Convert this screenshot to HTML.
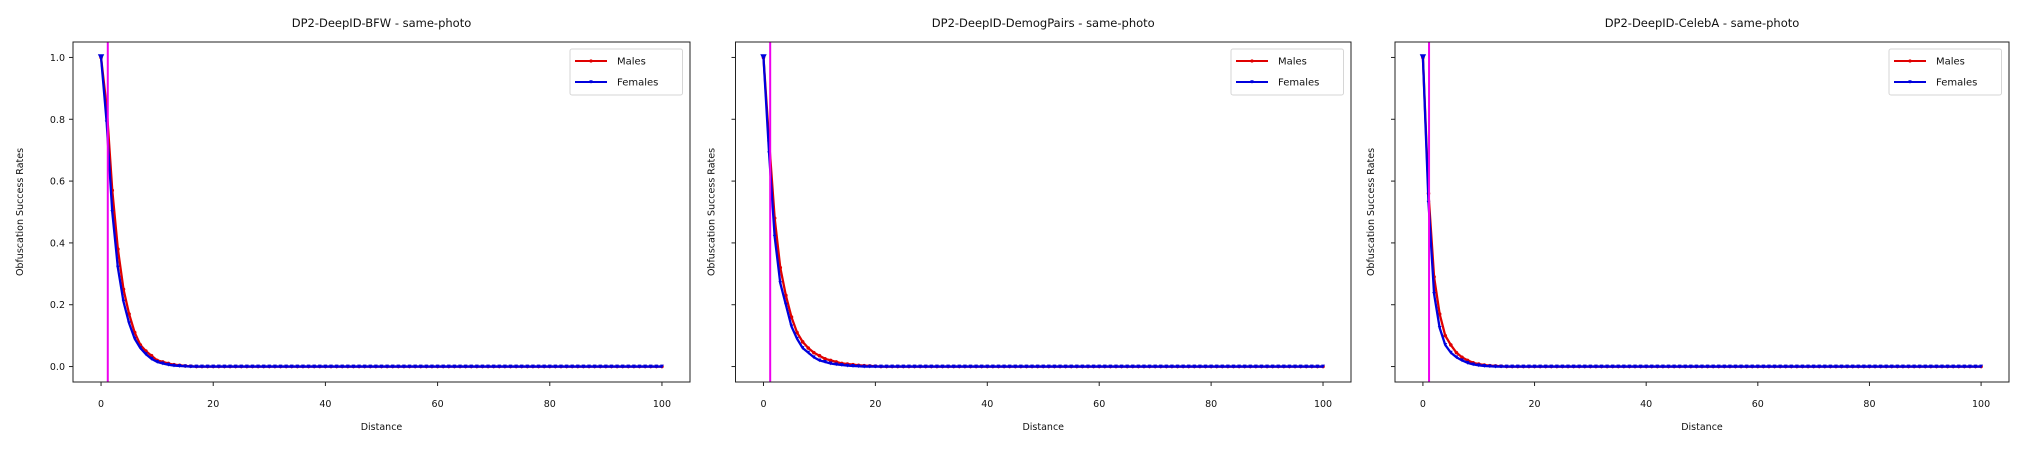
<!DOCTYPE html>
<html><head><meta charset="utf-8"><style>
html,body{margin:0;padding:0;background:#fff;}
svg{display:block;font-family:"DejaVu Sans","Liberation Sans",sans-serif;}
</style></head><body>
<svg id="fig" width="2025" height="450" viewBox="0 0 2025 450"></svg>
<script>
const xTicks = [0, 20, 40, 60, 80, 100];
const yTicks = [0.0, 0.2, 0.4, 0.6, 0.8, 1.0];
const yTickLabels = ["0.0", "0.2", "0.4", "0.6", "0.8", "1.0"];
const titles = ["DP2-DeepID-BFW - same-photo", "DP2-DeepID-DemogPairs - same-photo", "DP2-DeepID-CelebA - same-photo"];
const thresholds = [1.2, 1.2, 1.1];
const Z = [0,0,0,0,0,0,0,0,0,0,0,0,0,0,0,0,0,0,0,0,0,0,0,0,0,0,0,0,0,0,0,0,0,0,0,0,0,0,0,0,0,0,0,0,0,0,0,0,0,0,0,0,0,0,0,0,0,0,0,0,0,0,0,0,0,0,0,0,0,0,0,0,0,0,0,0,0,0,0,0];
const bfwMales = [1.0,0.84,0.57,0.38,0.25,0.17,0.11,0.07,0.05,0.035,0.02,0.015,0.01,0.006,0.004,0.002,0.001,0,0,0,0].concat(Z);
const bfwFemales = [1.0,0.79,0.50,0.32,0.21,0.14,0.09,0.06,0.04,0.025,0.015,0.01,0.006,0.003,0.002,0.001,0,0,0,0,0].concat(Z);
const dpMales = [1.0,0.73,0.48,0.32,0.23,0.16,0.11,0.08,0.06,0.045,0.035,0.025,0.02,0.015,0.01,0.008,0.006,0.004,0.003,0.002,0.001].concat(Z);
const dpFemales = [1.0,0.69,0.42,0.27,0.20,0.13,0.09,0.06,0.045,0.03,0.02,0.015,0.01,0.007,0.005,0.003,0.002,0.001,0,0,0].concat(Z);
const cbMales = [1.0,0.56,0.29,0.17,0.10,0.07,0.045,0.03,0.02,0.012,0.008,0.005,0.003,0.002,0.001,0,0,0,0,0,0].concat(Z);
const cbFemales = [1.0,0.53,0.235,0.125,0.07,0.045,0.03,0.02,0.012,0.007,0.004,0.002,0.001,0,0,0,0,0,0,0,0].concat(Z);
const malesSeries = [bfwMales, dpMales, cbMales];
const femalesSeries = [bfwFemales, dpFemales, cbFemales];

const NS = "http://www.w3.org/2000/svg";
const svg = document.getElementById("fig");
function mk(tag, attrs, parent){const e=document.createElementNS(NS,tag);for(const k in attrs)e.setAttribute(k,attrs[k]);(parent||svg).appendChild(e);return e;}
const panels = [{l:73,r:690},{l:735.5,r:1351},{l:1395,r:2009}];
const plotTop=42, plotBot=382;
panels.forEach((p,i)=>{
  const g = mk("g",{});
  
  
  const xs = v => p.l + (v+5)/110*(p.r-p.l);
  const ys = v => plotTop + (1.05 - v)/1.1*(plotBot-plotTop);
  const clipId="c"+i;
  const cp=mk("clipPath",{id:clipId},g); mk("rect",{x:p.l,y:plotTop,width:p.r-p.l,height:plotBot-plotTop},cp);
  const t=mk("text",{x:(p.l+p.r)/2,y:27,"text-anchor":"middle","font-size":"11.5",fill:"#111"},g);
  t.textContent=titles[i];
  
  
  xTicks.forEach(v=>{
    mk("line",{x1:xs(v),x2:xs(v),y1:plotBot,y2:plotBot+4,stroke:"#222","stroke-width":1},g);
    const tl=mk("text",{x:xs(v),y:407,"text-anchor":"middle","font-size":"9.5",fill:"#111"},g);
    tl.textContent=v;
    
    
  });
  yTicks.forEach((v,k)=>{
    mk("line",{x1:p.l-4,x2:p.l,y1:ys(v),y2:ys(v),stroke:"#222","stroke-width":1},g);
    if(i===0){
      const tl=mk("text",{x:p.l-8,y:ys(v)+3.5,"text-anchor":"end","font-size":"9.5",fill:"#111"},g);
      tl.textContent=yTickLabels[k];
      
      
    }
  });
  const xl=mk("text",{x:(p.l+p.r)/2,y:430,"text-anchor":"middle","font-size":"9.5",fill:"#111"},g);
  xl.textContent="Distance";
  
  
  const yx = i===0 ? p.l-50 : p.l-21;
  const yl=mk("text",{x:yx,y:(plotTop+plotBot)/2,"text-anchor":"middle","font-size":"9.5",fill:"#111",transform:`rotate(-90 ${yx} ${(plotTop+plotBot)/2})`},g);
  yl.textContent="Obfuscation Success Rates";
  
  
  const gp=mk("g",{"clip-path":`url(#${clipId})`},g);
  const males=malesSeries[i], fem=femalesSeries[i];
  const ml=mk("polyline",{points:males.map((v,k)=>xs(k)+","+ys(v)).join(" "),fill:"none",stroke:"#e00000","stroke-width":2.3,"stroke-linejoin":"round"},gp);
  
  
  males.forEach((v,k)=>{
    const c=mk("circle",{cx:xs(k),cy:ys(v),r:1.8,fill:"#e00000"},gp);
    
    
  });
  const fl=mk("polyline",{points:fem.map((v,k)=>xs(k)+","+ys(v)).join(" "),fill:"none",stroke:"#0000dd","stroke-width":2.3,"stroke-linejoin":"round"},gp);
  
  
  fem.forEach((v,k)=>{
    const s=k===0?3.2:1.9;
    const x=xs(k), y=ys(v);
    const tr=mk("polygon",{points:`${x-s},${y-s} ${x+s},${y-s} ${x},${y+s}`,fill:"#0000dd"},gp);
    
    
  });
  const vl=mk("line",{x1:xs(thresholds[i]),x2:xs(thresholds[i]),y1:plotTop,y2:plotBot,stroke:"#ee00ee","stroke-width":2},g);
  
  
  const fr=mk("rect",{x:p.l,y:plotTop,width:p.r-p.l,height:plotBot-plotTop,fill:"none",stroke:"#222","stroke-width":1},g);
  
  
  const lg=mk("g",{},g);
  
  
  const lx=p.r-120, ly=49;
  mk("rect",{x:lx,y:ly,width:112.5,height:46,rx:2,fill:"#fff",stroke:"#d6d6d6","stroke-width":1},lg);
  [["Males","#e00000",61,"c"],["Females","#0000dd",82,"t"]].forEach(e=>{
    const le=mk("g",{},lg);
    
    
    mk("line",{x1:lx+5,x2:lx+37,y1:e[2],y2:e[2],stroke:e[1],"stroke-width":2},le);
    if(e[3]==="c") mk("circle",{cx:lx+21,cy:e[2],r:1.6,fill:e[1]},le);
    else mk("polygon",{points:`${lx+19.3},${e[2]-1.7} ${lx+22.7},${e[2]-1.7} ${lx+21},${e[2]+1.7}`,fill:e[1]},le);
    const tx=mk("text",{x:lx+47,y:e[2]+3.5,"font-size":"10",fill:"#111"},le);
    tx.textContent=e[0];
  });
});
</script>
</body></html>
